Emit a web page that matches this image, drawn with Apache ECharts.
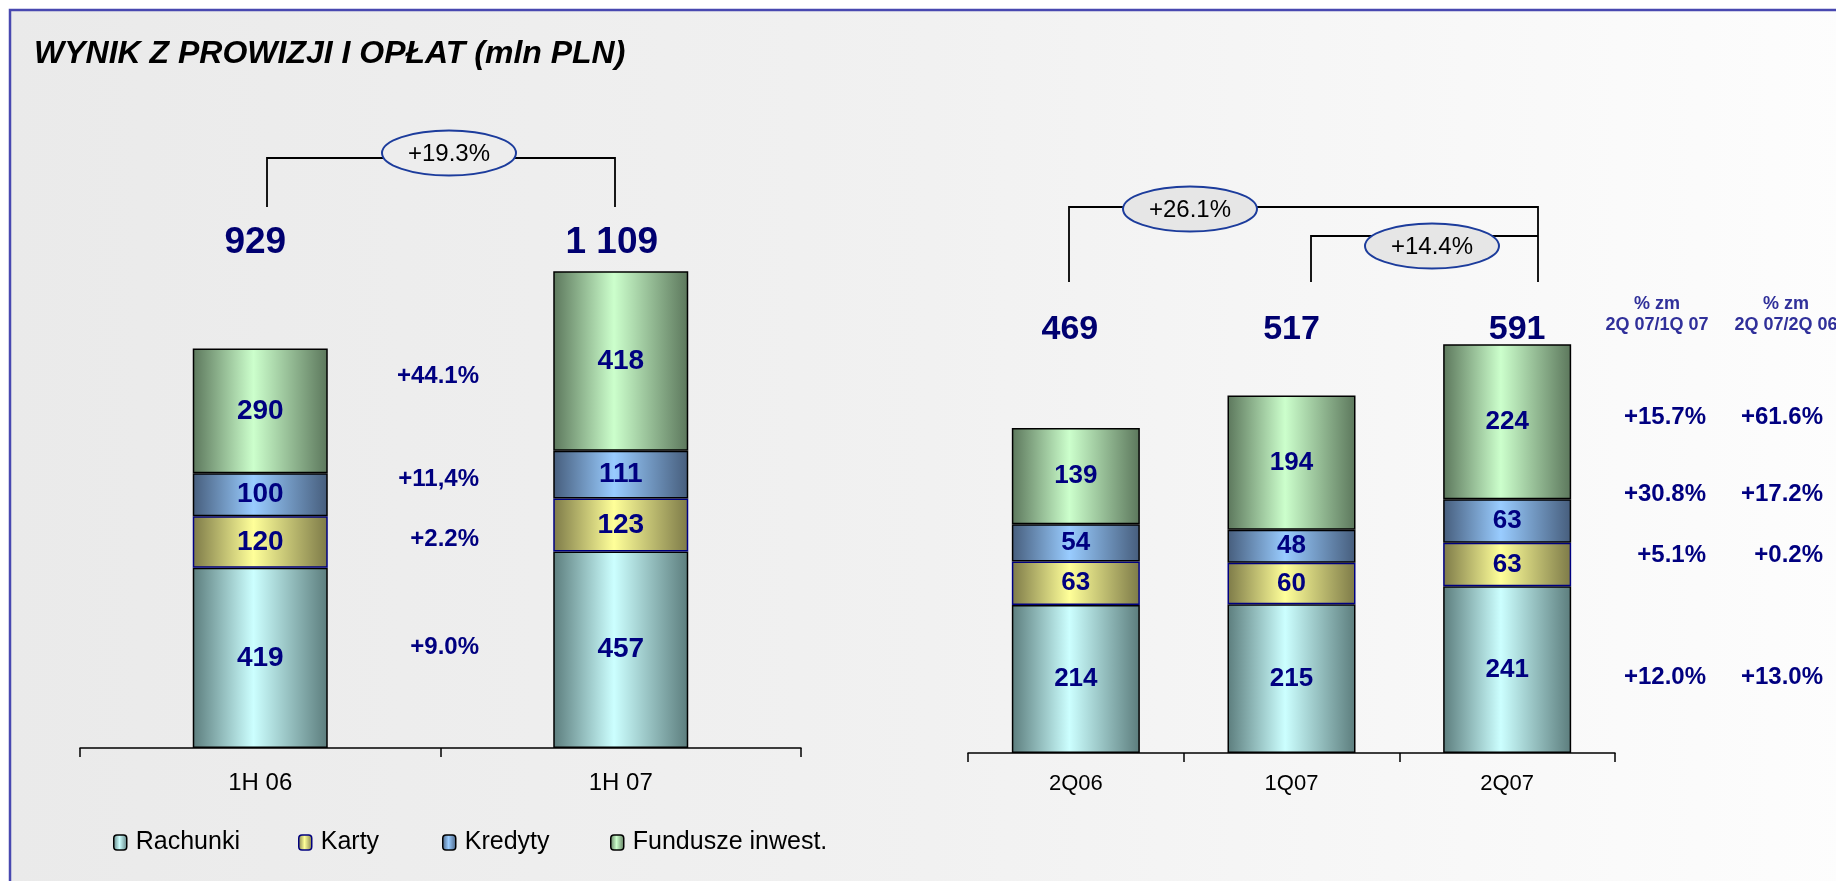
<!DOCTYPE html>
<html>
<head>
<meta charset="utf-8">
<script src="https://cdn.jsdelivr.net/npm/echarts@6/dist/echarts.min.js"></script>
<style>
  html, body { margin: 0; padding: 0; background: #fff; overflow: hidden; }
  #chart { width: 1836px; height: 881px; }
</style>
</head>
<body>
<div id="chart"></div>
<script>
// half-year data
const halfCats = ['1H 06', '1H 07'];
const halfRachunki = [419, 457];
const halfKarty = [120, 123];
const halfKredyty = [100, 111];
const halfFundusze = [290, 418];
const halfTotals = [929, 1109];
const halfGrowth = '+19.3%';
// change 1H07/1H06, order: Rachunki, Karty, Kredyty, Fundusze
const halfChange = ['+9.0%', '+2.2%', '+11,4%', '+44.1%'];

// quarterly data
const qCats = ['2Q06', '1Q07', '2Q07'];
const qRachunki = [214, 215, 241];
const qKarty = [63, 60, 63];
const qKredyty = [54, 48, 63];
const qFundusze = [139, 194, 224];
const qTotals = [469, 517, 591];
const qGrowthYoY = '+26.1%';
const qGrowthQoQ = '+14.4%';
const qChangeQoQ = ['+12.0%', '+5.1%', '+30.8%', '+15.7%'];
const qChangeYoY = ['+13.0%', '+0.2%', '+17.2%', '+61.6%'];
const qHeaders = ['% zm\n2Q 07/1Q 07', '% zm\n2Q 07/2Q 06'];

const seriesNames = ['Rachunki', 'Karty', 'Kredyty', 'Fundusze inwest.'];

const FONT = "'Liberation Sans', Arial, sans-serif";
const NAVY = '#000080';

function grad(edge, mid) {
  return {
    type: 'linear', x: 0, y: 0, x2: 1, y2: 0,
    colorStops: [
      {offset: 0, color: edge},
      {offset: 0.45, color: mid},
      {offset: 1, color: edge}
    ]
  };
}

const fills = [
  grad('#5c7d7d', '#ccffff'),
  grad('#7d7a48', '#ffff99'),
  grad('#465d7c', '#99ccff'),
  grad('#5c775c', '#ccffcc')
];
const borders = ['#000', '#000080', '#000', '#000'];

function fmt(n) {
  return String(n).replace(/\B(?=(\d{3})+(?!\d))/g, ' ');
}

function stackSeries(data, stack, idx, barWidth, fontSize) {
  return data.map(function(values, i) {
    return {
      name: seriesNames[i],
      type: 'bar',
      stack: stack,
      xAxisIndex: idx,
      yAxisIndex: idx,
      barWidth: barWidth,
      data: values,
      itemStyle: {color: fills[i], borderColor: borders[i], borderWidth: 1.5},
      label: {
        show: true,
        position: 'inside',
        color: NAVY,
        fontFamily: FONT,
        fontWeight: 'bold',
        fontSize: fontSize
      },
      silent: true
    };
  });
}

// totals sit on a fixed level above the bars, nudged sideways like in the slide
function totalSeries(totals, idx, level, shifts, fontSize) {
  return {
    type: 'scatter',
    xAxisIndex: idx,
    yAxisIndex: idx,
    symbolSize: 0,
    itemStyle: {opacity: 1},
    data: totals.map(function(t, i) {
      return {value: level, label: {offset: [shifts[i], 0]}};
    }),
    label: {
      show: true,
      position: 'inside',
      formatter: function(p) { return fmt(totals[p.dataIndex]); },
      color: '#000070',
      fontFamily: FONT,
      fontWeight: 'bold',
      fontSize: fontSize
    },
    silent: true
  };
}

function text(str, x, y, font, fill, align) {
  return {
    type: 'text', x: x, y: y, z: 10,
    style: {
      text: str, fill: fill, font: font,
      textAlign: align, textVerticalAlign: 'middle'
    }
  };
}

function bracket(points) {
  return {
    type: 'polyline', z: 5,
    shape: {points: points},
    style: {stroke: '#000', lineWidth: 1.8, fill: null}
  };
}

function oval(cx, cy, fill) {
  return {
    type: 'ellipse', z: 6,
    shape: {cx: cx, cy: cy, rx: 67, ry: 22.5},
    style: {fill: fill, stroke: '#1c3c9c', lineWidth: 2}
  };
}

const graphics = [
  {
    type: 'rect', z: -10, silent: true,
    shape: {x: 10, y: 10, width: 1840, height: 880},
    style: {
      fill: {
        type: 'linear', x: 0, y: 0, x2: 1, y2: 0,
        colorStops: [{offset: 0, color: '#eaeaea'}, {offset: 0.5, color: '#f1f1f1'}, {offset: 1, color: '#fdfdfd'}]
      },
      stroke: '#4848b0', lineWidth: 2.5
    }
  },
  text('WYNIK Z PROWIZJI I OPŁAT (mln PLN)', 34, 54, 'italic bold 32px ' + FONT, '#000', 'left'),
  bracket([[267, 207], [267, 158], [615, 158], [615, 207]]),
  bracket([[1069, 282], [1069, 207], [1538, 207], [1538, 282]]),
  bracket([[1311, 282], [1311, 236], [1538, 236]]),
  oval(449, 153, '#ededed'),
  oval(1190, 209, '#e6e6e6'),
  oval(1432, 246, '#e6e6e6')
];
graphics.push(text(halfGrowth, 449, 154, '24px ' + FONT, '#000', 'center'));
graphics.push(text(qGrowthYoY, 1190, 210, '24px ' + FONT, '#000', 'center'));
graphics.push(text(qGrowthQoQ, 1432, 247, '24px ' + FONT, '#000', 'center'));

const PCT_FONT = 'bold 24px ' + FONT;
const halfRowsY = [647, 539, 479, 376];
const qRowsY = [677, 555, 494, 417];
halfChange.forEach(function(s, i) { graphics.push(text(s, 479, halfRowsY[i], PCT_FONT, NAVY, 'right')); });
qChangeQoQ.forEach(function(s, i) { graphics.push(text(s, 1706, qRowsY[i], PCT_FONT, NAVY, 'right')); });
qChangeYoY.forEach(function(s, i) { graphics.push(text(s, 1823, qRowsY[i], PCT_FONT, NAVY, 'right')); });
[1657, 1786].forEach(function(x, i) {
  graphics.push({
    type: 'text', x: x, y: 294, z: 10,
    style: {
      text: qHeaders[i], fill: '#30309a', font: 'bold 18px ' + FONT,
      textAlign: 'center', textVerticalAlign: 'top', lineHeight: 21
    }
  });
});

function catAxis(data, idx, fontSize, margin) {
  return {
    type: 'category',
    gridIndex: idx,
    data: data,
    axisLine: {lineStyle: {color: '#000', width: 1.5}},
    axisTick: {show: true, length: 9, lineStyle: {color: '#000', width: 1.5}},
    axisLabel: {color: '#000', fontFamily: FONT, fontSize: fontSize, margin: margin}
  };
}

const legendLeft = [108, 293, 437, 605];

const chart = echarts.init(document.getElementById('chart'), null, {renderer: 'canvas'});
chart.setOption({
  animation: false,
  backgroundColor: '#ffffff',
  grid: [
    {left: 80, top: 232, width: 721, height: 516},
    {left: 968, top: 269, width: 647, height: 484}
  ],
  xAxis: [
    catAxis(halfCats, 0, 24, 23),
    catAxis(qCats, 1, 22, 20)
  ],
  yAxis: [
    {type: 'value', gridIndex: 0, min: 0, max: 1200, show: false},
    {type: 'value', gridIndex: 1, min: 0, max: 700, show: false}
  ],
  legend: seriesNames.map(function(name, i) {
    return {
      data: [name],
      left: legendLeft[i],
      top: 825,
      itemWidth: 13,
      itemHeight: 15,
      itemStyle: {borderWidth: 1.5},
      textStyle: {color: '#000', fontFamily: FONT, fontSize: 25, padding: [0, 0, 0, 4]},
      selectedMode: false
    };
  }),
  graphic: graphics,
  series: [].concat(
    stackSeries([halfRachunki, halfKarty, halfKredyty, halfFundusze], 'half', 0, 135, 28),
    stackSeries([qRachunki, qKarty, qKredyty, qFundusze], 'quarter', 1, 128, 26),
    [
      totalSeries(halfTotals, 0, 1174, [-5, -9], 37),
      totalSeries(qTotals, 1, 613, [-6, 0, 10], 34)
    ]
  )
});
</script>
</body>
</html>
